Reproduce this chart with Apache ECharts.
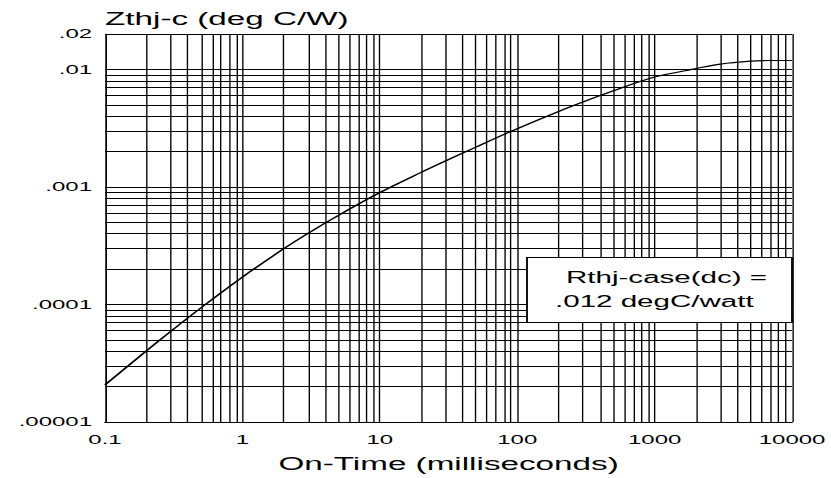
<!DOCTYPE html>
<html>
<head>
<meta charset="utf-8">
<script src="https://cdn.jsdelivr.net/npm/echarts@6/dist/echarts.min.js"></script>
<style>
  html, body { margin: 0; padding: 0; background: #fff; }
  #wrap { width: 831px; height: 478px; overflow: hidden; background: #fff; }
  #main { width: 450px; height: 478px; transform: scaleX(1.846667); transform-origin: 0 0; }
</style>
</head>
<body>
<div id="wrap"><div id="main"></div></div>
<script>
// ---- data ----
const onTime = [0.1, 0.2, 0.3, 0.5, 1, 2, 3, 5, 10, 20, 30, 50, 100, 200, 300, 500, 1000, 2000, 3000, 5000, 7000, 10000];
const zthjc  = [2.07e-5, 4.03e-5, 5.89e-5, 9.38e-5, 1.71e-4, 2.98e-4, 4.03e-4, 5.73e-4, 8.96e-4, 1.33e-3, 1.66e-3, 2.18e-3, 3.13e-3, 4.39e-3, 5.28e-3, 6.58e-3, 8.61e-3, 1.016e-2, 1.11e-2, 1.175e-2, 1.19e-2, 1.19e-2];

const xTickValues = [0.1, 1, 10, 100, 1000, 10000];
const xTickLabels = ['0.1', '1', '10', '100', '1000', '10000'];
const yTickValues = [0.00001, 0.0001, 0.001, 0.01, 0.02];
const yTickLabels = ['.00001', '.0001', '.001', '.01', '.02'];
const minorMultipliers = [2, 3, 4, 5, 6, 7, 8, 9];

const titleText = 'Zthj-c (deg C/W)';
const xAxisTitle = 'On-Time (milliseconds)';
const noteLines = ['Rthj-case(dc) =', '.012 degC/watt'];

// ---- layout ----
const S = 831 / 450;           // horizontal stretch of the reference
const FONT = '"Liberation Sans", Arial, Helvetica, sans-serif';
const VW = 1.35 / S;           // width giving ~1px vertical lines after stretch

function pick(values, labels) {
  return function (v) {
    for (let i = 0; i < values.length; i++) {
      if (Math.abs(Math.log10(v / values[i])) < 0.01) return labels[i];
    }
    return '';
  };
}

const xMin = xTickValues[0], xMax = xTickValues[xTickValues.length - 1];
const yMin = yTickValues[0], yMax = yTickValues[yTickValues.length - 1];

// minor grid lines (2..9 inside each decade), positioned by the axes
const xDecades = xTickValues.slice(0, -1);
const yDecades = yTickValues.slice(0, 3);
const vLines = [], hLines = [];
xDecades.forEach(d => minorMultipliers.forEach(m => {
  vLines.push({ coords: [[d * m, yMin], [d * m, yMax]] });
}));
yDecades.forEach(d => minorMultipliers.forEach(m => {
  hLines.push({ coords: [[xMin, d * m], [xMax, d * m]] });
}));

const chart = echarts.init(document.getElementById('main'), null, { renderer: 'svg' });
chart.setOption({
  animation: false,
  backgroundColor: '#fff',
  grid: { left: 105 / S, top: 34, width: 692 / S, height: 390, containLabel: false },
  xAxis: {
    type: 'log', logBase: 10, min: xMin, max: xMax,
    name: xAxisTitle, nameLocation: 'middle', nameGap: 42,
    nameTextStyle: { fontFamily: FONT, fontSize: 18, color: '#000', verticalAlign: 'middle' },
    axisLine: { show: true, onZero: false, lineStyle: { color: '#000', width: 1 } },
    axisTick: { show: false },
    axisLabel: { formatter: pick(xTickValues, xTickLabels), fontFamily: FONT, fontSize: 13, color: '#000', margin: 11 },
    splitLine: { show: true, lineStyle: { color: '#000', width: VW } }
  },
  yAxis: {
    type: 'log', logBase: 10, min: yMin, max: yMax,
    name: titleText, nameLocation: 'end', nameGap: 15,
    nameTextStyle: { fontFamily: FONT, fontSize: 18, color: '#000', align: 'left', verticalAlign: 'middle' },
    axisLine: { show: true, onZero: false, lineStyle: { color: '#000', width: VW } },
    axisTick: { show: false },
    axisLabel: { formatter: pick(yTickValues, yTickLabels), fontFamily: FONT, fontSize: 13, color: '#000', margin: 7 },
    splitLine: { show: true, lineStyle: { color: '#000', width: 1 } }
  },
  series: [
    {
      type: 'lines', coordinateSystem: 'cartesian2d', silent: true, z: 1,
      lineStyle: { color: '#000', width: VW, opacity: 1 },
      data: vLines
    },
    {
      type: 'lines', coordinateSystem: 'cartesian2d', silent: true, z: 1,
      lineStyle: { color: '#000', width: 1, opacity: 1 },
      data: hLines
    },
    {
      type: 'line',
      data: onTime.map((t, i) => [t, zthjc[i]]),
      showSymbol: false,
      smooth: 0.3,
      lineStyle: { color: '#000', width: 1.2 },
      silent: true,
      z: 5
    }
  ],
  graphic: [
    {
      type: 'rect', z: 100,
      shape: { x: 527 / S, y: 257.5, width: 265 / S, height: 65 },
      style: { fill: '#fff', stroke: '#000', lineWidth: 1 }
    },
    {
      type: 'text', z: 101, x: 566 / S, y: 277.5,
      style: { text: noteLines[0], fontFamily: FONT, fontSize: 16, fill: '#000', textAlign: 'left', textVerticalAlign: 'middle' }
    },
    {
      type: 'text', z: 101, x: 555 / S, y: 301,
      style: { text: noteLines[1], fontFamily: FONT, fontSize: 16, fill: '#000', textAlign: 'left', textVerticalAlign: 'middle' }
    }
  ]
});
</script>
</body>
</html>
